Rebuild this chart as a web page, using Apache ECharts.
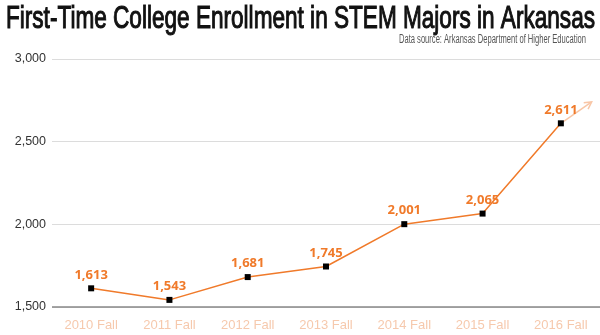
<!DOCTYPE html>
<html><head><meta charset="utf-8">
<script src="https://cdn.jsdelivr.net/npm/echarts@6/dist/echarts.min.js"></script>
<style>html,body{margin:0;padding:0;background:#fff}#c{width:600px;height:335px}</style>
</head><body><div id="c"></div>
<script>
const categories = ['2010 Fall','2011 Fall','2012 Fall','2013 Fall','2014 Fall','2015 Fall','2016 Fall'];
const enrollment = [1613,1543,1681,1745,2001,2065,2611];
const yTicks = [1500,2000,2500,3000];
const arrowEndValue = 2740;
const titleText = 'First-Time College Enrollment in STEM Majors in Arkansas';
const sourceText = 'Data source: Arkansas Department of Higher Education';

function textWidth(txt, font){
  const c = document.createElement('canvas').getContext('2d');
  c.font = font; return c.measureText(txt).width;
}
const titleFont = '32px "Liberation Sans"';
const titleScale = 589 / textWidth(titleText, titleFont);
const srcFont = '12.5px "Liberation Sans"';
const srcScale = 187 / textWidth(sourceText, srcFont);

const chart = echarts.init(document.getElementById('c'), null, {renderer:'canvas'});
chart.setOption({
  animation:false,
  backgroundColor:'#fff',
  grid:{left:52, top:59, width:553, height:248, containLabel:false},
  xAxis:{
    type:'category', data:categories, boundaryGap:true,
    axisLine:{show:false}, axisTick:{show:false},
    axisLabel:{color:'#f6c9ad', fontFamily:'Liberation Sans', fontSize:13, margin:12}
  },
  yAxis:{
    type:'value', min:yTicks[0], max:yTicks[yTicks.length-1], interval:500,
    axisLine:{show:false}, axisTick:{show:false},
    axisLabel:{color:'#333', fontFamily:'Liberation Sans', fontSize:12.5, margin:6,
      formatter:v=>v.toLocaleString('en-US')},
    splitLine:{lineStyle:{color:'#dcdcdc', width:1}}
  },
  series:[{
    type:'line', data:enrollment,
    lineStyle:{color:'#f07a2a', width:1.5},
    symbol:'rect', symbolSize:6,
    itemStyle:{color:'#000'},
    label:{show:true, position:'top', distance:4, color:'#f07a2a',
      fontFamily:'Open Sans', fontWeight:'bold', fontSize:13,
      formatter:p=>p.value.toLocaleString('en-US')},
    markLine:{silent:true, symbol:'none', label:{show:false},
      lineStyle:{color:'#888', type:'solid', width:1.5},
      data:[{yAxis:yTicks[0]}]}
  }]
});
const last = enrollment.length-1;
const p0 = chart.convertToPixel({seriesIndex:0},[last, enrollment[last]]);
const yEnd = chart.convertToPixel({yAxisIndex:0}, arrowEndValue);
const catW = 553/categories.length;
const x1 = p0[0] + catW*0.39, y1 = yEnd;
const ang = Math.atan2(y1-p0[1], x1-p0[0]);
const h = 8;
chart.setOption({graphic:[
  {type:'text', x:6, y:3, scaleX:titleScale, originX:0,
    style:{text:titleText, font:titleFont, fill:'#111', stroke:'#111', lineWidth:1.1, textVerticalAlign:'top'}},
  {type:'text', x:586, y:40, scaleX:srcScale, originX:0,
    style:{text:sourceText, font:srcFont, fill:'#555', textAlign:'right', textVerticalAlign:'middle'}},
  {type:'line', shape:{x1:p0[0],y1:p0[1],x2:x1,y2:y1}, style:{stroke:'#f8c6a6', lineWidth:1.5}, z:1},
  {type:'polyline', shape:{points:[
    [x1 - h*Math.cos(ang-0.5), y1 - h*Math.sin(ang-0.5)], [x1,y1],
    [x1 - h*Math.cos(ang+0.5), y1 - h*Math.sin(ang+0.5)]]},
    style:{stroke:'#f8c6a6', lineWidth:1.5, fill:null}, z:1}
]});
</script></body></html>
